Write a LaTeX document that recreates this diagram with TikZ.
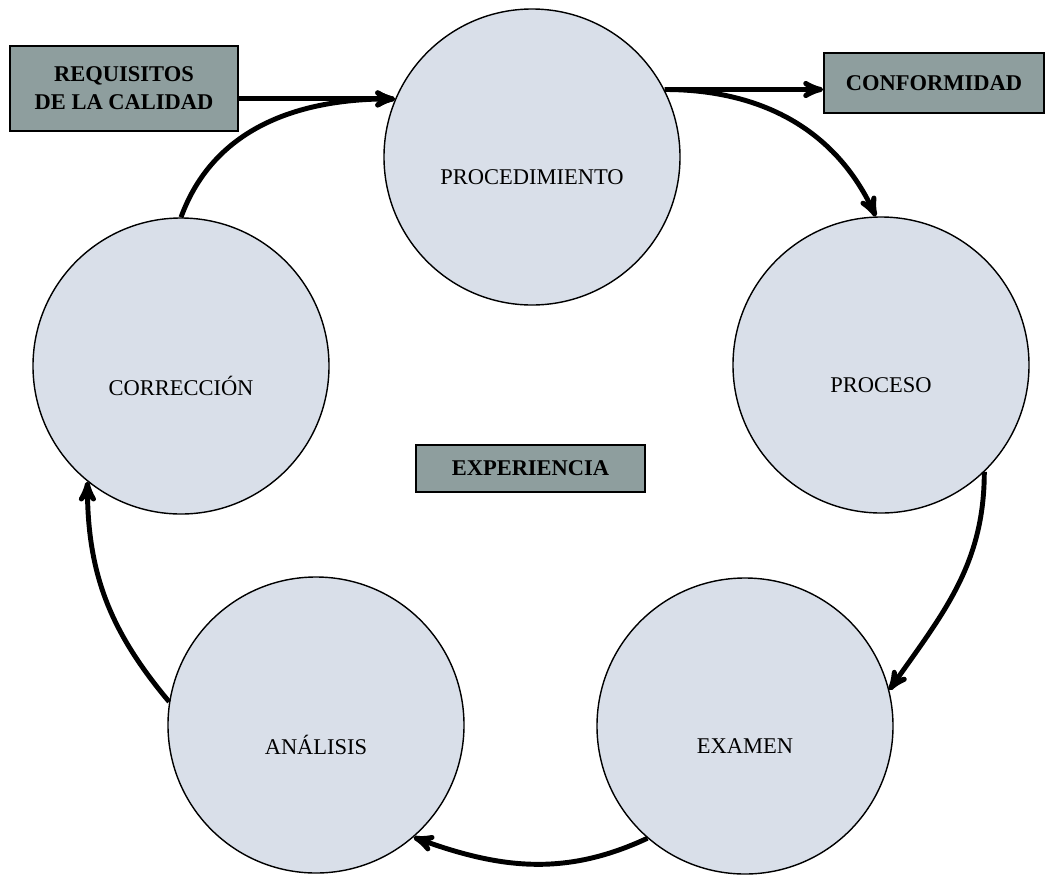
\documentclass[tikz,border=0pt]{standalone}
\usepackage{fontspec}
\setmainfont{Liberation Serif}
\usetikzlibrary{positioning, arrows}
\definecolor{circfill}{RGB}{217,223,233}
\definecolor{boxfill}{RGB}{142,158,158}

\begin{document}
\begin{tikzpicture}[x=0.25mm, y=-0.25mm, >=stealth', semithick,
    stage/.style={circle, draw, line width=1pt, fill=circfill, minimum size=74mm, inner sep=0pt,
        label={[font=\fontsize{16}{20}\selectfont, yshift=-5mm]center:#1}},
    tag/.style={draw, line width=1.2pt, fill=boxfill, inner sep=0pt, align=center,
        font=\fontsize{16}{20}\selectfont\bfseries},
    flow/.style={->, line width=3.5pt}]
    \useasboundingbox (0,0) rectangle (1050,881);

    \node[stage=PROCEDIMIENTO] (proc) at (532,157) {};
    \node[stage=PROCESO] (prcs) at (881,365) {};
    \node[stage=EXAMEN] (exam) at (745,726) {};
    \node[stage=ANÁLISIS] (anal) at (316,725) {};
    \node[stage=CORRECCIÓN] (corr) at (181,366) {};

    \node[tag, minimum width=57mm, minimum height=21.25mm] (req) at (124,88.5) {REQUISITOS\\DE LA CALIDAD};
    \node[tag, minimum width=55mm, minimum height=15mm] (conf) at (934,83) {CONFORMIDAD};
    \node[tag, minimum width=57.25mm, minimum height=11.75mm] (exp) at (530.5,468.5) {EXPERIENCIA};

    \path[flow]
    (req.east |- proc.157) edge (proc.157)
    (corr.north) edge[out=70, in=180] (proc.157)
    (proc.27) edge (proc.27 -| conf.west)
    (proc.27) edge[out=0, in=115] (prcs.92)
    (prcs.-46) edge[out=-90, in=55] (exam.14)
    (exam.-131) edge[out=-155, in=-20] (anal.-49)
    (anal.171) edge[out=130, in=-90] (corr.-129);
\end{tikzpicture}
\end{document}
